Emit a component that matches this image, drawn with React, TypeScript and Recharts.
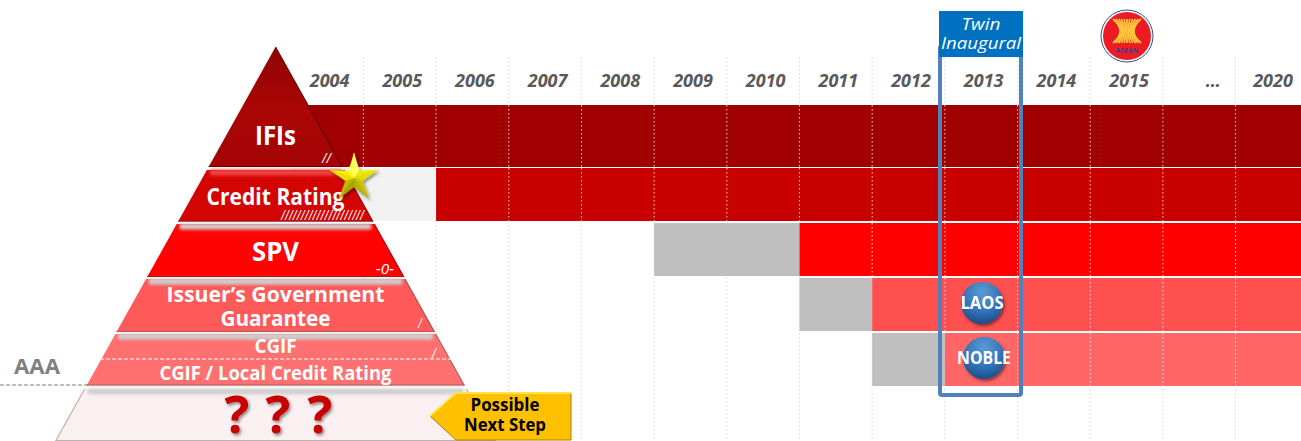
// Credit enhancement pyramid with a timeline of when each tier was available
import React from 'react';
import {
  BarChart,
  Bar,
  Cell,
  XAxis,
  YAxis,
  CartesianGrid,
} from 'recharts';

const CHART_WIDTH = 1301;
const CHART_HEIGHT = 442;
const FONT = '"Open Sans", "Noto Sans", sans-serif';

// Rows of the timeline, top to bottom. First and last rows hold no bars.
const tiers = ['Header', 'IFIs', 'Credit Rating', 'SPV', 'Issuer Guarantee', 'CGIF', 'Next Step'];
// Columns counted from the start of 2004
const blankColumns = [0, 0, 0, 5, 7, 8, 0];
const pendingColumns = [0, 0, 2, 2, 1, 1, 0];
const activeColumns = [0, 14, 12, 7, 6, 5, 0];

const yearLabels = ['2004', '2005', '2006', '2007', '2008', '2009', '2010', '2011', '2012', '2013', '2014', '2015', '…', '2020'];
const yearTicks = [0.5, 1.5, 2.5, 3.5, 4.5, 5.5, 6.5, 7.5, 8.5, 9.5, 10.5, 11.5, 12.66, 13.48];
const gridColumns = [1, 2, 3, 4, 5, 6, 7, 8, 9, 10, 11, 12, 13];

const activeColors = ['#000', '#A00000', '#C80000', '#FF0000', '#FF5050', '#FF6666', '#000'];
const pendingColors = ['#000', '#000', '#F2F2F2', '#BFBFBF', '#BFBFBF', '#BFBFBF', '#000'];

const chartData = tiers.map((tier, i) => ({
  tier,
  blank: blankColumns[i],
  pending: pendingColumns[i],
  active: activeColumns[i],
}));

const DOMAIN: [number, number] = [-4, 13.9];
const COLUMN_PX = CHART_WIDTH / (DOMAIN[1] - DOMAIN[0]);
const ZERO_PX = -DOMAIN[0] * COLUMN_PX;

// Active bar: the IFIs row runs taller than the rest, and the column
// separators show as white dots on the coloured part only
const ActiveBar = (props: any) => {
  const { x, y, width, height, index } = props;
  if (!width) return null;
  const top = index === 1 ? y - 8 : y;
  const h = index === 1 ? height + 9 : height;
  const first = Math.round((x - ZERO_PX) / COLUMN_PX);
  const separators = gridColumns.filter((c) => c > first);
  return (
    <g>
      <rect x={x} y={top} width={width} height={h} fill={activeColors[index]} />
      {separators.map((c) => (
        <line
          key={c}
          x1={ZERO_PX + c * COLUMN_PX}
          x2={ZERO_PX + c * COLUMN_PX}
          y1={top}
          y2={top + h}
          stroke="#FFFFFF"
          strokeOpacity={0.8}
          strokeDasharray="1.5 2.5"
        />
      ))}
    </g>
  );
};

const YearTick = (props: any) => {
  const { x, payload } = props;
  const label = yearLabels[yearTicks.indexOf(payload.value)];
  return (
    <text x={x + 2.5} y={86.5} textAnchor="middle" fontFamily={FONT} fontSize={18} fontWeight={700} fontStyle="italic" fill="#595959">
      {label}
    </text>
  );
};

// Pyramid outline: half width grows linearly below the apex
const APEX_X = 275.5;
const APEX_Y = 47;
const halfAt = (y: number) => 0.558 * (y - APEX_Y);
const trapezoid = (top: number, bottom: number) =>
  `${APEX_X - halfAt(top)},${top} ${APEX_X + halfAt(top)},${top} ${APEX_X + halfAt(bottom)},${bottom} ${APEX_X - halfAt(bottom)},${bottom}`;

const Tier = ({ top, bottom, fill, edge, glow, opacity, leftEdge }: any) => (
  <g>
    <polygon points={trapezoid(top, bottom)} fill={fill} fillOpacity={opacity ?? 1} />
    {glow && (
      <rect
        x={APEX_X - halfAt(top) + 3}
        y={top - 0.5}
        width={halfAt(top) * 2 - 6}
        height={6}
        fill={glow}
        filter="url(#softGlow)"
      />
    )}
    <line x1={APEX_X + halfAt(top)} y1={top} x2={APEX_X + halfAt(bottom)} y2={bottom} stroke={edge} strokeWidth={1.2} />
    {leftEdge && <line x1={APEX_X - halfAt(top)} y1={top} x2={APEX_X - halfAt(bottom)} y2={bottom} stroke={edge} strokeWidth={1.2} />}
    <line x1={APEX_X - halfAt(bottom)} y1={bottom - 0.5} x2={APEX_X + halfAt(bottom)} y2={bottom - 0.5} stroke={edge} strokeWidth={1.2} />
  </g>
);

const TierLabel = ({ x = APEX_X, y, size, length, children }: any) => (
  <text
    x={x}
    y={y}
    textAnchor="middle"
    fontFamily={FONT}
    fontSize={size}
    fontWeight={700}
    fill="#FFFFFF"
    textLength={length}
    lengthAdjust="spacingAndGlyphs"
  >
    {children}
  </text>
);

const Tally = ({ x, y, size = 14, length, children }: any) => (
  <text x={x} y={y} fontFamily={FONT} fontSize={size} fontStyle="italic" fill="#FFFFFF" textLength={length} lengthAdjust="spacingAndGlyphs">
    {children}
  </text>
);

const starPoint = (cx: number, cy: number, i: number, outer: number, inner: number) => {
  const r = i % 2 === 0 ? outer : inner;
  const a = (Math.PI / 5) * i - Math.PI / 2;
  return [cx + r * Math.cos(a), cy + r * Math.sin(a)];
};

// Five pointed star, bevelled by shading each facet on its own
const Star = ({ cx, cy, outer, inner }: any) => (
  <g filter="url(#dropShadow)">
    {Array.from({ length: 10 }, (_, i) => {
      const [ax, ay] = starPoint(cx, cy, i, outer, inner);
      const [bx, by] = starPoint(cx, cy, i + 1, outer, inner);
      const lit = ['#FFFF66', '#EDE800', '#E3DE00', '#C9C400', '#B8B300', '#A8A300', '#C0BB00', '#E8E300', '#F7F200', '#FFFF4D'][i];
      return <polygon key={i} points={`${cx},${cy} ${ax},${ay} ${bx},${by}`} fill={lit} stroke={lit} strokeWidth={0.3} />;
    })}
  </g>
);

const Pyramid = () => (
  <g>
    <Tier top={47} bottom={167} fill="url(#ifiFill)" edge="#6A0000" />
    <Tier top={170} bottom={221.5} fill="#D20404" edge="#8C0A0A" glow="#F04040" />
    <Tier top={224} bottom={277} fill="#FF0303" edge="#B00000" glow="#CFCFCF" />
    <Tier top={279} bottom={332} fill="#FF5A5A" edge="#A85050" glow="#CFCFCF" />
    <Tier top={334} bottom={385.5} fill="#FF7070" edge="#B06060" glow="#CFCFCF" />
    <Tier top={389} bottom={441} fill="#FBEEF0" edge="#BFAFAF" glow="#CFCFCF" opacity={0.9} leftEdge />

    <line x1={100} x2={452} y1={359} y2={359} stroke="#FFFFFF" strokeWidth={1.2} strokeDasharray="4 2" />

    <TierLabel y={145} size={27} length={41}>IFIs</TierLabel>
    <TierLabel y={205} size={23} length={138}>Credit Rating</TierLabel>
    <TierLabel y={261} size={27} length={47}>SPV</TierLabel>
    <TierLabel y={302} size={22} length={218}>Issuer’s Government</TierLabel>
    <TierLabel y={326} size={22} length={110}>Guarantee</TierLabel>
    <TierLabel y={353} size={19} length={42}>CGIF</TierLabel>
    <TierLabel y={380} size={19} length={232}>CGIF / Local Credit Rating</TierLabel>

    <Tally x={322} y={163} length={9}>//</Tally>
    <Tally x={281} y={220} length={83}>{'/'.repeat(21)}</Tally>
    <Tally x={376} y={274} length={18}>-0-</Tally>
    <Tally x={418} y={328} length={4}>/</Tally>
    <Tally x={432} y={358} length={4}>/</Tally>

    <Star cx={354} cy={178} outer={25} inner={9} />

    <text x={14} y={373.5} fontFamily={FONT} fontSize={21} fontWeight={700} fill="#808080" textLength={46} lengthAdjust="spacingAndGlyphs">AAA</text>
    <line x1={0} x2={88} y1={385} y2={385} stroke="#7F7F7F" strokeWidth={1} strokeDasharray="4 2" />

    {[237, 278, 320].map((x) => (
      <text key={x} x={x} y={433} textAnchor="middle" fontFamily={FONT} fontSize={52} fontWeight={700} fill="#C80000" filter="url(#dropShadow)">?</text>
    ))}

    <polygon points="430,416 456,393 571,393 571,440 456,440" fill="#FFC000" stroke="#A88000" strokeWidth={1} />
    <polyline points="430,416 456,393 571,393" fill="none" stroke="#FFE34D" strokeWidth={2} />
    <text textAnchor="middle" fontFamily={FONT} fontSize={17} fontWeight={700} fill="#000000">
      <tspan x={505} y={411} textLength={69} lengthAdjust="spacingAndGlyphs">Possible</tspan>
      <tspan x={505} y={431} textLength={82} lengthAdjust="spacingAndGlyphs">Next Step</tspan>
    </text>
  </g>
);

// Stalk bundle of the ASEAN emblem
const stalkOffsets = [-5, -4, -3, -2, -1, 0, 1, 2, 3, 4, 5];

const AseanEmblem = ({ cx, cy }: { cx: number; cy: number }) => (
  <g>
    <circle cx={cx} cy={cy} r={26} fill="#FFFFFF" stroke="#2F4F8F" strokeWidth={1} />
    <circle cx={cx} cy={cy} r={24} fill="#ED1C24" />
    {stalkOffsets.map((o) => (
      <path
        key={o}
        d={`M ${cx + o * 2.8} ${cy - 17} C ${cx + o * 0.9} ${cy - 9}, ${cx + o * 0.9} ${cy - 1}, ${cx + o * 2.8} ${cy + 7}`}
        fill="none"
        stroke="#FFCB3D"
        strokeWidth={1.7}
      />
    ))}
    <text x={cx} y={cy + 17} textAnchor="middle" fontFamily={FONT} fontSize={7} fontWeight={700} fill="#3F3F8F">ASEAN</text>
  </g>
);

const Badge = ({ cx, cy, label, length }: any) => (
  <g>
    <circle cx={cx} cy={cy} r={21} fill="url(#badgeFill)" filter="url(#dropShadow)" />
    <text x={cx} y={cy + 6} textAnchor="middle" fontFamily={FONT} fontSize={17} fontWeight={700} fill="#FFFFFF" textLength={length} lengthAdjust="spacingAndGlyphs">
      {label}
    </text>
  </g>
);

const InauguralFrame = () => (
  <g>
    <rect x={940} y={46} width={81} height={349} rx={2} fill="none" stroke="#4F81BD" strokeWidth={4} />
    <rect x={939} y={11} width={84} height={46} fill="#0070C0" />
    <text textAnchor="middle" fontFamily={FONT} fontSize={16} fontStyle="italic" fill="#FFFFFF">
      <tspan x={981} y={30} textLength={39} lengthAdjust="spacingAndGlyphs">Twin</tspan>
      <tspan x={981} y={49} textLength={80} lengthAdjust="spacingAndGlyphs">Inaugural</tspan>
    </text>
    <Badge cx={982} cy={303} label="LAOS" length={43} />
    <Badge cx={984} cy={358} label="NOBLE" length={54} />
    <AseanEmblem cx={1127} cy={36} />
  </g>
);

// Pyramid and callouts sit above the bars in a layer of their own
const Overlay = () => (
  <svg width={1301} height={441} style={{ position: 'absolute', left: 0, top: 0 }}>
    <defs>
      <filter id="softGlow" x="-5%" y="-100%" width="110%" height="300%">
        <feGaussianBlur stdDeviation="1.8" />
      </filter>
      <filter id="dropShadow" x="-30%" y="-30%" width="160%" height="160%">
        <feDropShadow dx="1.5" dy="2" stdDeviation="1.5" floodColor="#000000" floodOpacity="0.45" />
      </filter>
      <linearGradient id="ifiFill" x1="0" y1="0" x2="0" y2="1">
        <stop offset="0" stopColor="#8E0404" />
        <stop offset="0.5" stopColor="#AA0505" />
        <stop offset="1" stopColor="#A40404" />
      </linearGradient>
      <radialGradient id="badgeFill" cx="0.5" cy="0.25" r="0.85">
        <stop offset="0" stopColor="#5B9BD5" />
        <stop offset="0.6" stopColor="#2E6DB4" />
        <stop offset="1" stopColor="#173F73" />
      </radialGradient>
    </defs>
    <Pyramid />
    <InauguralFrame />
  </svg>
);

const App = () => (
  <div style={{ position: 'absolute', left: 0, top: 0, width: 1301, height: 441, overflow: 'hidden', background: '#FFFFFF' }}>
    <BarChart
      width={CHART_WIDTH}
      height={CHART_HEIGHT}
      data={chartData}
      layout="vertical"
      barSize={53}
      margin={{ top: 0, right: 0, bottom: 0, left: 0 }}
    >
      <CartesianGrid horizontal={false} verticalValues={gridColumns} stroke="#D9D9D9" strokeDasharray="1.5 2.5" />
      <XAxis
        type="number"
        orientation="top"
        height={57}
        domain={DOMAIN}
        allowDataOverflow
        ticks={yearTicks}
        interval={0}
        axisLine={false}
        tickLine={false}
        tick={YearTick}
      />
      <YAxis type="category" dataKey="tier" hide />
      <Bar dataKey="blank" stackId="timeline" fill="none" isAnimationActive={false} />
      <Bar dataKey="pending" stackId="timeline" isAnimationActive={false}>
        {pendingColors.map((color, i) => (
          <Cell key={i} fill={color} />
        ))}
      </Bar>
      <Bar dataKey="active" stackId="timeline" shape={ActiveBar} isAnimationActive={false} />
    </BarChart>
    <Overlay />
  </div>
);

export default App;
